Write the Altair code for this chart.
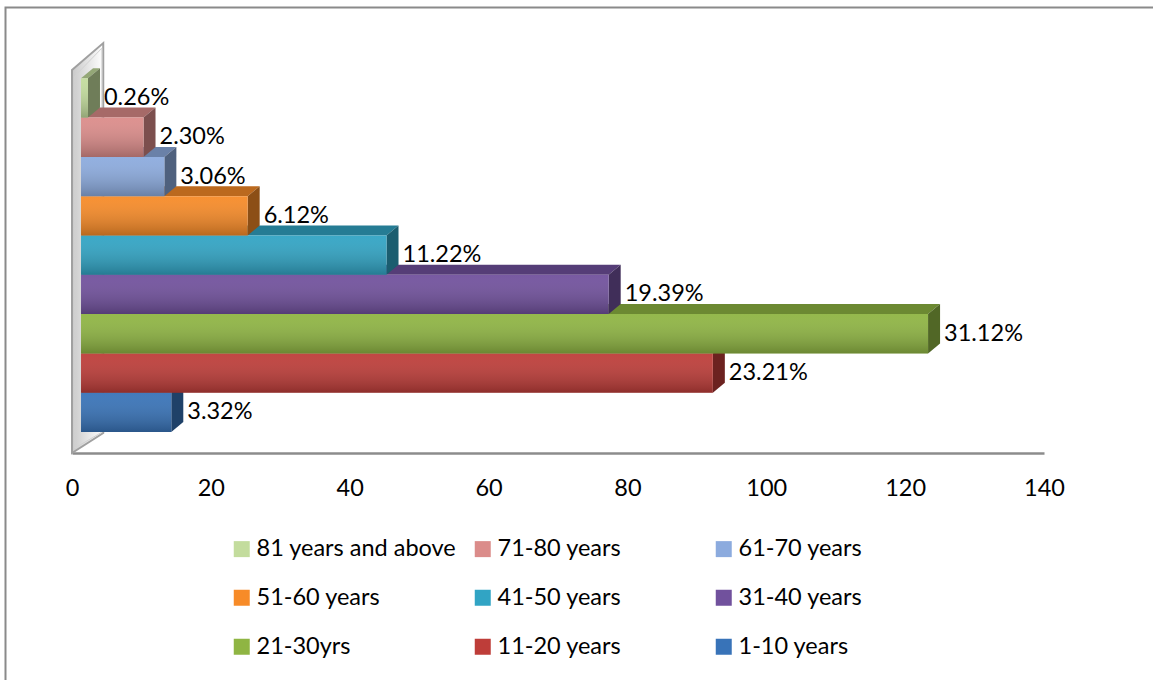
import altair as alt
import pandas as pd

# Respondents by age group (counts); percentage labels are derived from these.
groups = ["1-10 years", "11-20 years", "21-30yrs", "31-40 years", "41-50 years",
          "51-60 years", "61-70 years", "71-80 years", "81 years and above"]
counts = [13, 91, 122, 76, 44, 24, 12, 9, 1]
colors = ["#3873B8", "#BE3D39", "#8FB543", "#71519D", "#31A4C4",
          "#F78B28", "#8CABDE", "#DB8C8A", "#C3DC9D"]
x_ticks = [0, 20, 40, 60, 80, 100, 120, 140]

FONT = "Lato"
FS = 23.5

# geometry of the pseudo-3D view (in scale units)
W, H = 972, 413
PAD = {"left": 72, "top": 40, "right": 1153 - 72 - 972, "bottom": 680 - 40 - 413}
Y_UNIT_PX = 39.3
Y_MAX = H / Y_UNIT_PX
X0 = 1.3        # bars start slightly in front of the side wall
DX = 1.73       # depth offset along x
DY = 0.2545     # depth offset along y
GAP = 0.534     # lift of the first bar above the floor edge


def shade(hex_color, f):
    h = hex_color.lstrip("#")
    r, g, b = (int(h[i:i + 2], 16) for i in (0, 2, 4))
    return "#{:02x}{:02x}{:02x}".format(int(r * f), int(g * f), int(b * f))


total = sum(counts)
front_rows, top_rows, side_rows = [], [], []
for i, (g, c, col) in enumerate(zip(groups, counts, colors)):
    lo, hi = GAP + i, GAP + i + 1
    a, b = X0, X0 + c
    front_rows.append({"group": g, "x": a, "x2": b, "y": lo, "y2": hi,
                       "lx": b + DX, "ly": (lo + hi) / 2,
                       "label": f"{c / total * 100:.2f}%"})
    top_fill = shade(col, 0.76)
    side_fill = shade(col, 0.57)
    top_rows += [{"group": g, "y": hi, "xl": a, "xr": b, "fill": top_fill},
                 {"group": g, "y": hi + DY, "xl": a + DX, "xr": b + DX, "fill": top_fill}]
    side_rows += [{"group": g, "x": b, "yb": lo, "yt": hi, "fill": side_fill},
                  {"group": g, "x": b + DX, "yb": lo + DY, "yt": hi + DY, "fill": side_fill}]

front = pd.DataFrame(front_rows)
tops = pd.DataFrame(top_rows)
sides = pd.DataFrame(side_rows)

# left side wall of the 3D frame
wall = pd.DataFrame({"x": [0.0, 4.5], "lo": [0.0, 0.509], "hi": [9.746, 10.43]})
wall_inner = pd.DataFrame({"x": [0.45, 4.3], "lo": [0.13, 0.53], "hi": [9.6, 10.3]})

xs = alt.Scale(domain=[0, 140], nice=False, zero=False)
ys = alt.Scale(domain=[0, Y_MAX], nice=False, zero=False)
x_axis = alt.Axis(values=x_ticks, title=None, ticks=False, grid=False,
                  labelFont=FONT, labelFontSize=FS, labelColor="#000000",
                  labelPadding=23, labelFlush=False, labelOverlap=False,
                  domainColor="#8C8C8C", domainWidth=2.5)

legend_order = groups[::-1]
legend_colors = colors[::-1]

frame = alt.Chart(pd.DataFrame({"k": [0]})).mark_rect(
    filled=False, stroke="#8A8A8A", strokeWidth=2
).encode(x=alt.value(5.5 - PAD["left"]), x2=alt.value(1300),
         y=alt.value(7.5 - PAD["top"]), y2=alt.value(800))

wall_fill = alt.Chart(wall).mark_area(
    orient="vertical", stroke="#A0A0A0", strokeWidth=2,
    fill=alt.LinearGradient(gradient="linear", x1=0, y1=0, x2=1, y2=0,
                            stops=[alt.GradientStop(offset=0, color="#C9C9C9"),
                                   alt.GradientStop(offset=1, color="#FFFFFF")])
).encode(x=alt.X("x:Q", scale=xs, axis=x_axis),
         y=alt.Y("hi:Q", scale=ys, axis=None), y2="lo:Q")

wall_line = alt.Chart(wall_inner).mark_area(
    orient="vertical", stroke="#D2D2D2", strokeWidth=1, fillOpacity=0
).encode(x=alt.X("x:Q", scale=xs, axis=x_axis),
         y=alt.Y("hi:Q", scale=ys, axis=None), y2="lo:Q")

top_faces = alt.Chart(tops).mark_area(orient="horizontal").encode(
    y=alt.Y("y:Q", scale=ys, axis=None),
    x=alt.X("xl:Q", scale=xs, axis=x_axis), x2="xr:Q",
    detail="group:N",
    fill=alt.Fill("fill:N", scale=None),
)

side_faces = alt.Chart(sides).mark_area(orient="vertical").encode(
    x=alt.X("x:Q", scale=xs, axis=x_axis),
    y=alt.Y("yt:Q", scale=ys, axis=None), y2="yb:Q",
    detail="group:N",
    fill=alt.Fill("fill:N", scale=None),
)

front_faces = alt.Chart(front).mark_rect().encode(
    x=alt.X("x:Q", scale=xs, axis=x_axis), x2="x2:Q",
    y=alt.Y("y:Q", scale=ys, axis=None), y2="y2:Q",
    color=alt.Color("group:N",
                    scale=alt.Scale(domain=legend_order, range=legend_colors),
                    legend=alt.Legend(
                        orient="none", legendX=158, legendY=497, columns=3,
                        direction="horizontal",
                        title=None, symbolType="square", symbolSize=256,
                        symbolStrokeWidth=0, labelFont=FONT, labelFontSize=FS,
                        labelColor="#000000", labelOffset=3, labelLimit=400,
                        rowPadding=24, columnPadding=14, gridAlign="all",
                        padding=0)),
)

shine = alt.Chart(front).mark_rect(
    fill=alt.LinearGradient(gradient="linear", x1=0, y1=0, x2=0, y2=1,
                            stops=[alt.GradientStop(offset=0, color="rgba(255,255,255,0.05)"),
                                   alt.GradientStop(offset=1, color="rgba(0,0,0,0.25)")])
).encode(x=alt.X("x:Q", scale=xs, axis=x_axis), x2="x2:Q",
         y=alt.Y("y:Q", scale=ys, axis=None), y2="y2:Q")

labels = alt.Chart(front).mark_text(
    align="left", baseline="middle", dx=4, font=FONT, fontSize=FS, color="#000000"
).encode(x=alt.X("lx:Q", scale=xs, axis=x_axis),
         y=alt.Y("ly:Q", scale=ys, axis=None), text="label:N")

chart = alt.layer(
    frame, wall_fill, wall_line, top_faces, side_faces, front_faces, shine, labels
).properties(
    width=W, height=H, padding=PAD,
    autosize=alt.AutoSizeParams(type="none"), background="#FFFFFF",
).configure_view(strokeWidth=0)

chart.save("out.html", embed_options={"renderer": "svg", "actions": False})
